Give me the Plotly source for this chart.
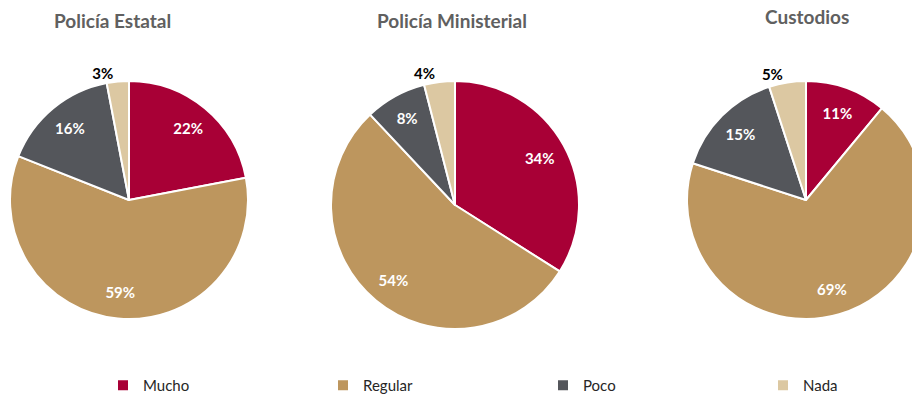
import plotly.graph_objects as go

# ---- data ----
categories = ["Mucho", "Regular", "Poco", "Nada"]
titles = ["Policía Estatal", "Policía Ministerial", "Custodios"]
estatal = [22, 59, 16, 3]
ministerial = [34, 54, 8, 4]
custodios = [11, 69, 15, 5]
series = [estatal, ministerial, custodios]

colors = ["#A80036", "#BD965E", "#54565B", "#DCC8A2"]

# canvas is a bit larger than the 912x394 view; the page crops the overflow
W, H = 1000, 402

def dom(cx, cy, r):
    return dict(x=[(cx - r) / W, (cx + r) / W], y=[1 - (cy + r) / H, 1 - (cy - r) / H])

geoms = [(129, 200, 119), (455, 205, 124), (806, 200, 119)]
title_pos = [(112, 20), (452, 20), (807, 17)]

fig = go.Figure()
for i, (vals, g) in enumerate(zip(series, geoms)):
    # filled pie
    fig.add_trace(go.Pie(
        labels=categories,
        values=vals,
        sort=False,
        direction="clockwise",
        rotation=0,
        domain=dom(*g),
        marker=dict(colors=colors, line=dict(color="white", width=2)),
        textinfo="none",
        hoverinfo="label+percent",
        showlegend=(i == 0),
    ))
    # transparent ring overlay carrying the labels (places them further out)
    fig.add_trace(go.Pie(
        labels=categories,
        values=vals,
        sort=False,
        direction="clockwise",
        rotation=0,
        hole=0.56,
        domain=dom(*g),
        marker=dict(colors=["rgba(0,0,0,0)"] * 4, line=dict(width=0)),
        texttemplate="<b>%{percent:.0%}</b>",
        textposition=["inside", "inside", "inside", "outside"],
        insidetextorientation="horizontal",
        insidetextfont=dict(color="white", size=15, family="Lato"),
        outsidetextfont=dict(color="black", size=15, family="Lato"),
        hoverinfo="skip",
        showlegend=False,
    ))

for t, (x, y) in zip(titles, title_pos):
    fig.add_annotation(text="<b>" + t + "</b>", x=x / W, y=1 - y / H, xref="paper", yref="paper",
                       showarrow=False, xanchor="center", yanchor="middle",
                       font=dict(family="Lato", size=19, color="#606060"))

fig.update_layout(
    width=W, height=H,
    margin=dict(l=0, r=0, t=0, b=0),
    paper_bgcolor="white", plot_bgcolor="white",
    font=dict(family="Lato"),
    legend=dict(orientation="h", x=103 / W, y=0, xanchor="left", yanchor="bottom",
                entrywidth=175, entrywidthmode="pixels",
                font=dict(size=15, color="#262626", family="Lato"),
                traceorder="normal"),
)

fig.write_html("out.html", config={"displayModeBar": False},
               post_script="document.body.style.margin='0';document.body.style.overflow='hidden';")
